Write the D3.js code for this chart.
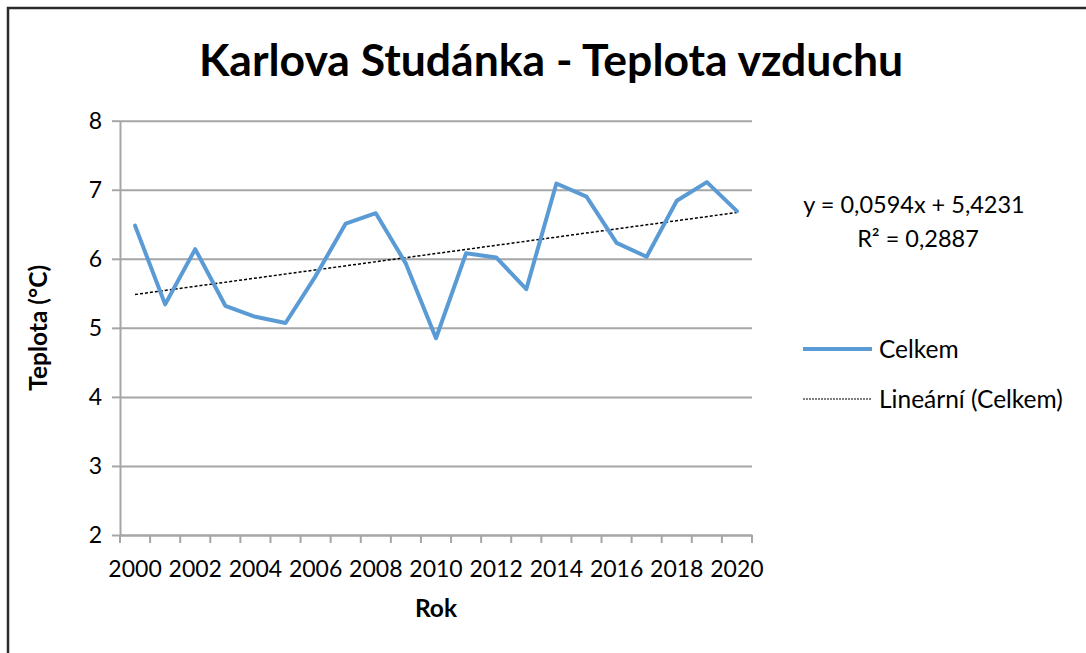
<!DOCTYPE html>
<html>
<head>
<meta charset="utf-8">
<script src="https://cdn.jsdelivr.net/npm/d3@7"></script>
<style>
  body { margin: 0; background: #fff; }
  svg text { font-family: Lato, "Open Sans", sans-serif; fill: #000; }
</style>
</head>
<body>
<div id="chart"></div>
<script>
// data
const years = d3.range(2000, 2021);
const celkem = [6.48, 5.34, 6.14, 5.32, 5.16, 5.07, 5.75, 6.51, 6.66, 5.93, 4.85,
                6.08, 6.02, 5.56, 7.09, 6.90, 6.23, 6.03, 6.84, 7.11, 6.69];
const yTicks = [2, 3, 4, 5, 6, 7, 8];
const xLabels = [2000, 2002, 2004, 2006, 2008, 2010, 2012, 2014, 2016, 2018, 2020];
// trend line as printed on the chart (x = 1..21)
const trendSlope = 0.0594;
const trendIntercept = 5.4231;
const eqText = "y = 0,0594x + 5,4231";
const r2Text = "R² = 0,2887";

const W = 1086, H = 653;
const plot = {left: 120, right: 752, top: 120.7, bottom: 535};

const svg = d3.select("#chart").append("svg")
  .attr("width", W).attr("height", H);

// chart frame
svg.append("rect")
  .attr("x", 8).attr("y", 8)
  .attr("width", 1100).attr("height", 700)
  .attr("fill", "#fff")
  .attr("stroke", "#2b2b2b")
  .attr("stroke-width", 2.5);

const x = d3.scaleBand().domain(years).range([plot.left, plot.right]).padding(0);
const y = d3.scaleLinear().domain([2, 8]).range([plot.bottom, plot.top]);

// gridlines
svg.append("g")
  .attr("transform", "translate(" + plot.left + ",0)")
  .call(d3.axisLeft(y).tickValues(yTicks).tickSize(-(plot.right - plot.left)).tickFormat(""))
  .call(g => g.select(".domain").remove())
  .call(g => g.selectAll("line").attr("stroke", "#a6a6a6").attr("stroke-width", 2));

// y axis
svg.append("g")
  .attr("transform", "translate(" + plot.left + ",0)")
  .call(d3.axisLeft(y).tickValues(yTicks).tickFormat(d3.format("d"))
    .tickSize(8).tickPadding(10).tickSizeOuter(0))
  .call(g => g.select(".domain").attr("stroke", "#a6a6a6").attr("stroke-width", 2))
  .call(g => g.selectAll("line").attr("stroke", "#a6a6a6").attr("stroke-width", 2))
  .call(g => g.selectAll("text").attr("font-size", 23).attr("font-family", "Lato, sans-serif"));

// x axis: labels at category centres, tick marks at category edges
svg.append("g")
  .attr("transform", "translate(0," + plot.bottom + ")")
  .call(d3.axisBottom(x).tickValues(xLabels).tickSize(0).tickPadding(26).tickSizeOuter(0))
  .call(g => g.select(".domain").attr("stroke", "#a6a6a6").attr("stroke-width", 2))
  .call(g => g.selectAll("text").attr("font-size", 23).attr("font-family", "Lato, sans-serif"));

const edges = years.map(d => x(d)).concat([x.range()[1]]);
svg.append("g").selectAll("line")
  .data(edges).enter().append("line")
  .attr("x1", d => d).attr("x2", d => d)
  .attr("y1", plot.bottom).attr("y2", plot.bottom + 8)
  .attr("stroke", "#a6a6a6").attr("stroke-width", 2);

const cx = d => x(d) + x.bandwidth() / 2;

// trend line
const trend = [years[0], years[years.length - 1]].map(d => ({
  year: d, v: trendIntercept + trendSlope * (years.indexOf(d) + 1)
}));
svg.append("path")
  .datum(trend)
  .attr("fill", "none")
  .attr("stroke", "#000")
  .attr("stroke-width", 1.5)
  .attr("stroke-dasharray", "3,2")
  .attr("d", d3.line().x(d => cx(d.year)).y(d => y(d.v)));

// data line
svg.append("path")
  .datum(years.map((d, i) => ({year: d, v: celkem[i]})))
  .attr("fill", "none")
  .attr("stroke", "#5b9bd5")
  .attr("stroke-width", 4)
  .attr("stroke-linejoin", "round")
  .attr("stroke-linecap", "round")
  .attr("d", d3.line().x(d => cx(d.year)).y(d => y(d.v)));

// title
svg.append("text")
  .attr("x", 551).attr("y", 76)
  .attr("text-anchor", "middle")
  .attr("font-size", 44.5).attr("font-weight", "bold")
  .text("Karlova Studánka - Teplota vzduchu");

// axis titles
svg.append("text")
  .attr("transform", "translate(47," + ((plot.top + plot.bottom) / 2) + ") rotate(-90)")
  .attr("text-anchor", "middle")
  .attr("font-size", 24.5).attr("font-weight", "bold")
  .text("Teplota (°C)");

svg.append("text")
  .attr("x", (plot.left + plot.right) / 2).attr("y", 617)
  .attr("text-anchor", "middle")
  .attr("font-size", 24.5).attr("font-weight", "bold")
  .text("Rok");

// trend equation
svg.append("text")
  .attr("x", 914).attr("y", 213)
  .attr("text-anchor", "middle")
  .attr("font-size", 23.5)
  .text(eqText);
svg.append("text")
  .attr("x", 918).attr("y", 247)
  .attr("text-anchor", "middle")
  .attr("font-size", 23.5)
  .text(r2Text);

// legend
const legend = svg.append("g");
legend.append("line")
  .attr("x1", 803).attr("x2", 872).attr("y1", 349).attr("y2", 349)
  .attr("stroke", "#5b9bd5").attr("stroke-width", 4);
legend.append("text")
  .attr("x", 879).attr("y", 358)
  .attr("font-size", 24.5)
  .text("Celkem");
legend.append("line")
  .attr("x1", 803).attr("x2", 872).attr("y1", 399).attr("y2", 399)
  .attr("stroke", "#000").attr("stroke-width", 1)
  .attr("stroke-dasharray", "2,1");
legend.append("text")
  .attr("x", 879).attr("y", 408)
  .attr("font-size", 24.5)
  .text("Lineární (Celkem)");
</script>
</body>
</html>
